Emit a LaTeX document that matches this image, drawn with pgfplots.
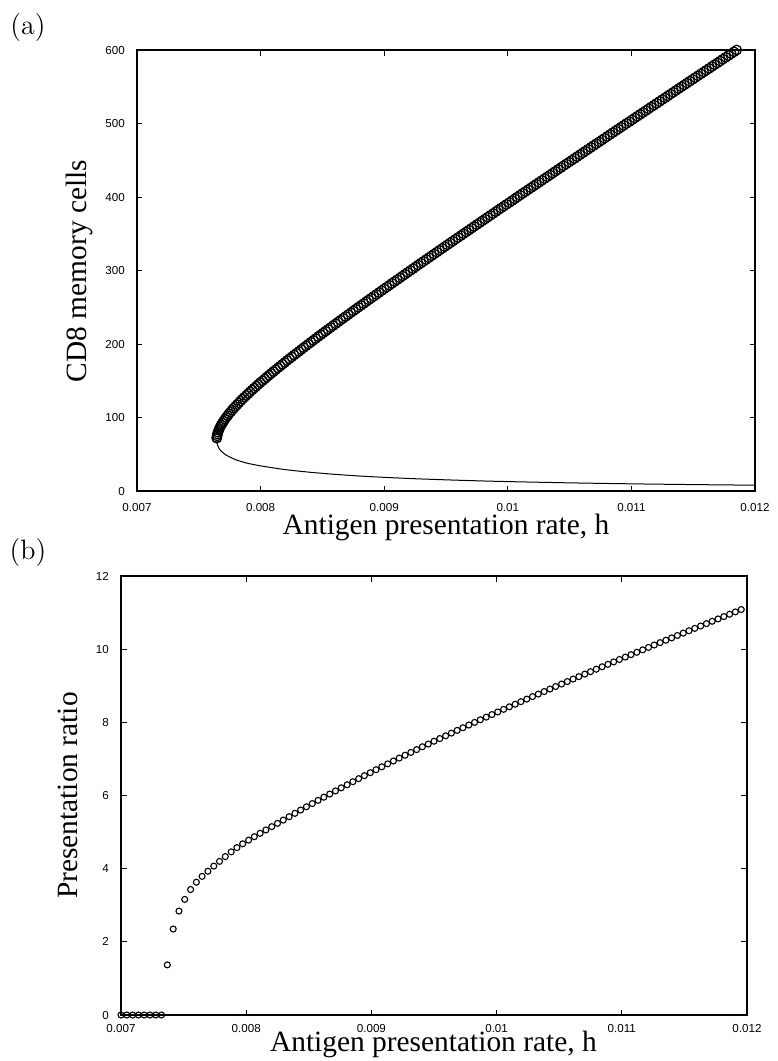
\documentclass[border=0pt]{standalone}
\usepackage{fontspec}
\usepackage{pgfplots}
\usepackage{pgfplotstable}
\pgfplotsset{compat=1.18}
\newfontfamily\serif{Liberation Serif}
\newfontfamily\tickfont{Liberation Sans}

% Panel (a): upper branch (h in units of 0.001, CD8 memory cells)
\pgfplotstableread{
h y
7.645 72
7.646 72.5
7.648 75
7.651 77.5
7.655 80
7.661 82.5
7.667 85
7.674 87.5
7.682 90
7.691 92.5
7.701 95
7.711 97.5
7.721 100
7.733 102.5
7.744 105
7.757 107.5
7.769 110
7.782 112.5
7.796 115
7.810 117.5
7.824 120
7.838 122.5
7.853 125
7.868 127.5
7.884 130
7.900 132.5
7.915 135
7.932 137.5
7.948 140
7.965 142.5
7.981 145
7.998 147.5
8.016 150
8.033 152.5
8.050 155
8.068 157.5
8.086 160
8.104 162.5
8.122 165
8.140 167.5
8.159 170
8.177 172.5
8.196 175
8.214 177.5
8.233 180
8.252 182.5
8.271 185
8.290 187.5
8.310 190
8.329 192.5
8.348 195
8.368 197.5
8.387 200
8.407 202.5
8.427 205
8.446 207.5
8.466 210
8.486 212.5
8.506 215
8.526 217.5
8.546 220
8.566 222.5
8.586 225
8.607 227.5
8.627 230
8.647 232.5
8.668 235
8.688 237.5
8.709 240
8.729 242.5
8.750 245
8.770 247.5
8.791 250
8.812 252.5
8.833 255
8.853 257.5
8.874 260
8.895 262.5
8.916 265
8.937 267.5
8.958 270
8.979 272.5
9.000 275
9.021 277.5
9.042 280
9.063 282.5
9.084 285
9.105 287.5
9.127 290
9.148 292.5
9.169 295
9.190 297.5
9.212 300
9.233 302.5
9.254 305
9.275 307.5
9.297 310
9.318 312.5
9.340 315
9.361 317.5
9.383 320
9.404 322.5
9.426 325
9.447 327.5
9.469 330
9.490 332.5
9.512 335
9.533 337.5
9.555 340
9.576 342.5
9.598 345
9.620 347.5
9.641 350
9.663 352.5
9.685 355
9.707 357.5
9.728 360
9.750 362.5
9.772 365
9.793 367.5
9.815 370
9.837 372.5
9.859 375
9.881 377.5
9.902 380
9.924 382.5
9.946 385
9.968 387.5
9.990 390
10.012 392.5
10.034 395
10.056 397.5
10.077 400
10.099 402.5
10.121 405
10.143 407.5
10.165 410
10.187 412.5
10.209 415
10.231 417.5
10.253 420
10.275 422.5
10.297 425
10.319 427.5
10.341 430
10.363 432.5
10.385 435
10.407 437.5
10.429 440
10.451 442.5
10.473 445
10.495 447.5
10.518 450
10.540 452.5
10.562 455
10.584 457.5
10.606 460
10.628 462.5
10.650 465
10.672 467.5
10.694 470
10.716 472.5
10.739 475
10.761 477.5
10.783 480
10.805 482.5
10.827 485
10.849 487.5
10.872 490
10.894 492.5
10.916 495
10.938 497.5
10.960 500
10.983 502.5
11.005 505
11.027 507.5
11.049 510
11.071 512.5
11.094 515
11.116 517.5
11.138 520
11.160 522.5
11.183 525
11.205 527.5
11.227 530
11.249 532.5
11.272 535
11.294 537.5
11.316 540
11.339 542.5
11.361 545
11.383 547.5
11.405 550
11.428 552.5
11.450 555
11.472 557.5
11.495 560
11.517 562.5
11.539 565
11.562 567.5
11.584 570
11.606 572.5
11.629 575
11.651 577.5
11.673 580
11.696 582.5
11.718 585
11.740 587.5
11.763 590
11.785 592.5
11.807 595
11.830 597.5
11.852 600
}\upperbranch

% Panel (a): lower branch
\pgfplotstableread{
h y
7.645 70
7.647 66
7.653 62
7.667 57
7.690 53
7.720 49
7.760 45.5
7.800 42.5
7.850 39.8
7.900 37.5
8.000 34.2
8.200 29.1
8.400 25.5
8.600 22.7
8.800 20.4
9.000 18.6
9.250 16.7
9.500 15.2
9.750 13.9
10.000 12.8
10.500 11.1
11.000 9.76
11.500 8.73
12.000 7.89
}\lowerbranch

% Panel (b): presentation ratio
\pgfplotstableread{
h r
7.000 0
7.046 0
7.093 0
7.139 0
7.185 0
7.231 0
7.278 0
7.324 0
7.370 1.37
7.417 2.35
7.463 2.84
7.509 3.16
7.556 3.43
7.602 3.63
7.648 3.79
7.694 3.93
7.741 4.07
7.787 4.20
7.833 4.33
7.880 4.46
7.926 4.575
7.972 4.68
8.019 4.78
8.065 4.875
8.111 4.967
8.157 5.058
8.204 5.149
8.250 5.239
8.296 5.328
8.343 5.421
8.389 5.513
8.435 5.603
8.481 5.692
8.528 5.780
8.574 5.867
8.620 5.954
8.667 6.040
8.713 6.125
8.759 6.210
8.806 6.294
8.852 6.377
8.898 6.460
8.944 6.542
8.991 6.624
9.037 6.705
9.083 6.785
9.130 6.865
9.176 6.944
9.222 7.023
9.269 7.101
9.315 7.178
9.361 7.255
9.407 7.332
9.454 7.407
9.500 7.483
9.546 7.557
9.593 7.632
9.639 7.706
9.685 7.780
9.731 7.853
9.778 7.926
9.824 7.998
9.870 8.070
9.917 8.142
9.963 8.213
10.009 8.284
10.056 8.355
10.102 8.425
10.148 8.495
10.194 8.565
10.241 8.635
10.287 8.704
10.333 8.773
10.380 8.842
10.426 8.911
10.472 8.979
10.519 9.047
10.565 9.115
10.611 9.183
10.657 9.250
10.704 9.318
10.750 9.385
10.796 9.452
10.843 9.519
10.889 9.586
10.935 9.652
10.981 9.718
11.028 9.784
11.074 9.850
11.120 9.916
11.167 9.982
11.213 10.048
11.259 10.114
11.306 10.179
11.352 10.244
11.398 10.309
11.444 10.374
11.491 10.439
11.537 10.504
11.583 10.569
11.630 10.634
11.676 10.698
11.722 10.763
11.769 10.827
11.815 10.891
11.861 10.955
11.907 11.019
11.954 11.083
}\ratiotab

\pgfplotsset{
  myax/.style={
    scale only axis,
    axis line style={line width=0.6pt},
    tick align=inside,
    xtick pos=both, ytick pos=both,
    xticklabel pos=lower, yticklabel pos=left,
    tick style={black, line width=0.5pt},
    major tick length=2.75pt,
    tick label style={font=\tickfont\fontsize{5.8}{7}\selectfont},
    /pgf/number format/assume math mode=true,
    xmin=7, xmax=12,
    xtick={7,8,9,10,11,12},
    xticklabels={0.007,0.008,0.009,0.01,0.011,0.012},
    yticklabel style={xshift=-2.6pt},
    clip=false,
  }
}

\begin{document}
\begin{tikzpicture}
\useasboundingbox (0pt,0pt) rectangle (388.5pt,-530.5pt);

% ---------- panel (a) ----------
\begin{axis}[myax,
  at={(68.5pt,-245.5pt)}, anchor=south west,
  width=309pt, height=220.5pt,
  ymin=0, ymax=600, ytick={0,100,200,300,400,500,600},
  xticklabel style={yshift=-2.5pt},
]
\addplot[only marks, mark=o, mark size=2.4pt, mark options={line width=0.6pt, black}] table[x=h,y=y] {\upperbranch};
\addplot[black, line width=0.5pt, smooth, tension=0.4] table[x=h,y=y] {\lowerbranch};
\end{axis}

% ---------- panel (b) ----------
\begin{axis}[myax,
  at={(60.5pt,-507.5pt)}, anchor=south west,
  width=313pt, height=219.5pt,
  ymin=0, ymax=12, ytick={0,2,4,6,8,10,12},
  xticklabel style={yshift=-1.25pt},
]
\addplot[only marks, mark=o, mark size=1.5pt, mark options={line width=0.55pt, black}] table[x=h,y=r] {\ratiotab};
\end{axis}

% ---------- labels ----------
\node[font=\fontsize{14}{16}\selectfont] at (14pt,-13.75pt) {(a)};
\node[font=\fontsize{14}{16}\selectfont] at (14pt,-276.5pt) {(b)};
\node[font=\serif\fontsize{14.7}{16}\selectfont, anchor=base] at (223pt,-267pt) {Antigen presentation rate, h};
\node[font=\serif\fontsize{14.7}{16}\selectfont, anchor=base] at (216.7pt,-525.5pt) {Antigen presentation rate, h};
\node[font=\serif\fontsize{14.7}{16}\selectfont, rotate=90, anchor=base] at (43pt,-135.5pt) {CD8 memory cells};
\node[font=\serif\fontsize{14.7}{16}\selectfont, rotate=90, anchor=base] at (38.5pt,-397.75pt) {Presentation ratio};
\end{tikzpicture}
\end{document}
